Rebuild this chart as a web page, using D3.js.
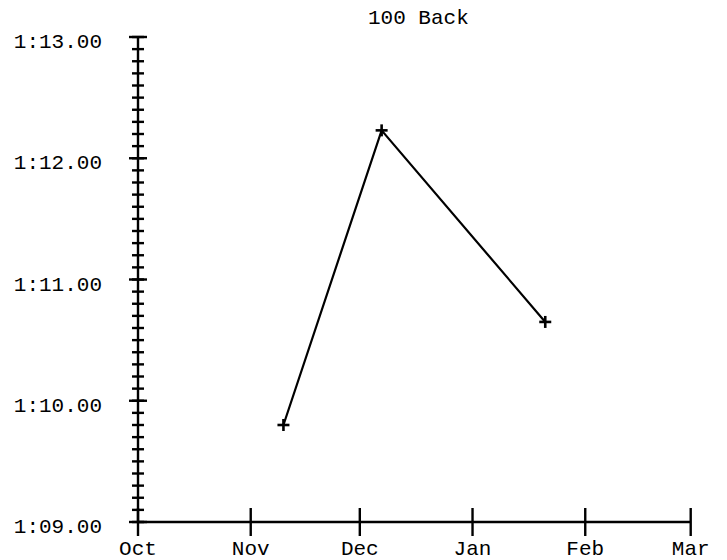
<!DOCTYPE html>
<html>
<head>
<meta charset="utf-8">
<script src="https://cdn.jsdelivr.net/npm/d3@7"></script>
<style>
  html, body { margin: 0; padding: 0; background: #fff; }
  svg { display: block; }
  text { font-family: "Liberation Mono", "Courier New", monospace; fill: #000; }
</style>
</head>
<body>
<svg id="chart" width="727" height="560"></svg>
<script>
// ---- data ----
const title = "100 Back";
const swimDates = ["2019-11-10", "2019-12-07", "2020-01-21"];
const swimTimes = [69.80, 72.23, 70.65]; // seconds
const xDomain = ["2019-10-01", "2020-03-01"];
const yDomain = [69, 73];
const monthLabels = ["Oct", "Nov", "Dec", "Jan", "Feb", "Mar"];

// ---- layout ----
const svg = d3.select("#chart");
const pLeft = 138, pRight = 690.7, pTop = 37, pBottom = 522;
const parse = d3.utcParse("%Y-%m-%d");

const x = d3.scaleUtc().domain(xDomain.map(parse)).range([pLeft, pRight]);
const y = d3.scaleLinear().domain(yDomain).range([pBottom, pTop]);

const fmt = s => "1:" + String(Math.floor(s) - 60).padStart(2, "0") + ".00";

// title
svg.append("text")
  .attr("x", (pLeft + pRight) / 2 + 4)
  .attr("y", 24)
  .attr("text-anchor", "middle")
  .attr("font-size", 21)
  .text(title);

// y axis line
svg.append("line")
  .attr("x1", pLeft).attr("x2", pLeft)
  .attr("y1", pTop).attr("y2", pBottom)
  .attr("stroke", "#000").attr("stroke-width", 2.4);

// minor y ticks (0.1 s)
const minor = d3.range(yDomain[0] * 10, yDomain[1] * 10 + 1).map(v => v / 10);
svg.append("g").selectAll("line").data(minor).join("line")
  .attr("x1", pLeft - 6).attr("x2", pLeft + 6)
  .attr("y1", d => y(d)).attr("y2", d => y(d))
  .attr("stroke", "#000").attr("stroke-width", 2.4);

// major y ticks
const major = y.ticks(4);
svg.append("g").selectAll("line").data(major).join("line")
  .attr("x1", pLeft - 9).attr("x2", pLeft + 9)
  .attr("y1", d => y(d)).attr("y2", d => y(d))
  .attr("stroke", "#000").attr("stroke-width", 2.4);

svg.append("g").selectAll("text").data(major).join("text")
  .attr("x", pLeft - 36)
  .attr("y", d => y(d) + 11)
  .attr("text-anchor", "end")
  .attr("font-size", 21)
  .text(fmt);

// x axis line
svg.append("line")
  .attr("x1", pLeft).attr("x2", pRight)
  .attr("y1", pBottom).attr("y2", pBottom)
  .attr("stroke", "#000").attr("stroke-width", 2.4);

const months = x.ticks(d3.utcMonth.every(1));
svg.append("g").selectAll("line").data(months).join("line")
  .attr("x1", d => x(d)).attr("x2", d => x(d))
  .attr("y1", pBottom - 14).attr("y2", pBottom + 14)
  .attr("stroke", "#000").attr("stroke-width", 2.4);

svg.append("g").selectAll("text").data(months).join("text")
  .attr("x", d => x(d))
  .attr("y", 555)
  .attr("text-anchor", "middle")
  .attr("font-size", 21)
  .text((d, i) => monthLabels[i]);

// data line
const pts = swimDates.map((d, i) => ({ date: parse(d), t: swimTimes[i] }));
svg.append("path")
  .datum(pts)
  .attr("fill", "none")
  .attr("stroke", "#000")
  .attr("stroke-width", 2.2)
  .attr("d", d3.line().x(d => x(d.date)).y(d => y(d.t)));

// plus markers
const mk = svg.append("g").selectAll("g").data(pts).join("g")
  .attr("transform", d => `translate(${x(d.date)},${y(d.t)})`);
mk.append("line").attr("x1", -6).attr("x2", 6).attr("y1", 0).attr("y2", 0)
  .attr("stroke", "#000").attr("stroke-width", 2.6);
mk.append("line").attr("x1", 0).attr("x2", 0).attr("y1", -6).attr("y2", 6)
  .attr("stroke", "#000").attr("stroke-width", 2.6);
</script>
</body>
</html>
